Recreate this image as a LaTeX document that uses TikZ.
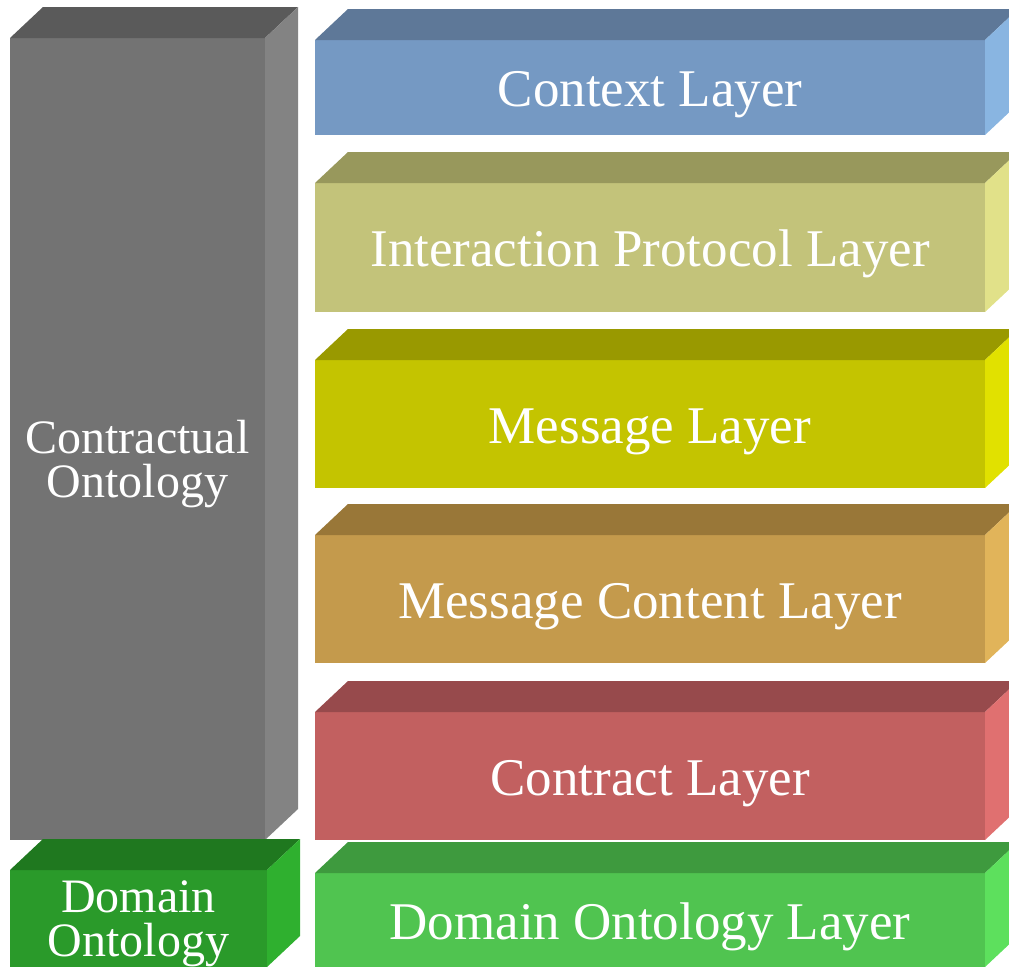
\documentclass[tikz,border=0pt]{standalone}
\usepackage{fontspec}
\setmainfont{Liberation Serif}
\usepackage{tikz}
\usetikzlibrary{shapes}

\definecolor{grayfront}{HTML}{737373}
\definecolor{graytop}{HTML}{5A5A5A}
\definecolor{grayside}{HTML}{838383}
\definecolor{domfront}{HTML}{2A9A2A}
\definecolor{domtop}{HTML}{1F781F}
\definecolor{domside}{HTML}{2FB02F}
\definecolor{ctxfront}{HTML}{7599C3}
\definecolor{ctxtop}{HTML}{5E7898}
\definecolor{ctxside}{HTML}{89B5E1}
\definecolor{ipfront}{HTML}{C3C37A}
\definecolor{iptop}{HTML}{98985C}
\definecolor{ipside}{HTML}{E1E189}
\definecolor{msgfront}{HTML}{C4C400}
\definecolor{msgtop}{HTML}{999900}
\definecolor{msgside}{HTML}{E1E100}
\definecolor{mcfront}{HTML}{C49A4C}
\definecolor{mctop}{HTML}{997738}
\definecolor{mcside}{HTML}{E1B45A}
\definecolor{ctrfront}{HTML}{C26060}
\definecolor{ctrtop}{HTML}{974A4C}
\definecolor{ctrside}{HTML}{E07070}
\definecolor{dolfront}{HTML}{50C450}
\definecolor{doltop}{HTML}{3E9A3E}
\definecolor{dolside}{HTML}{5DE05D}

\tikzstyle{block} = [rectangle, inner sep=0pt, outer sep=0pt, text=white, text centered]
\tikzstyle{layer} = [block, minimum width=670pt, text height=50pt, font=\fontsize{53}{60}\selectfont]
\tikzstyle{side} = [block, align=center, font=\fontsize{48}{44}\selectfont]

\begin{document}
\begin{tikzpicture}[x=1pt, y=-1pt]
    \clip (0,0) rectangle (1009,967);
    \useasboundingbox (0,0) rectangle (1009,967);

    % left column
    \node[block, fill=grayfront, minimum width=255pt, minimum height=802pt] (ontology) at (137.5,439) {};
    \node[block, fill=domfront, minimum width=257pt, minimum height=97pt] (domain) at (138.5,918.5) {};
    \node[side] (ontologytext) at ([yshift=-25pt]ontology.center) {Contractual\\Ontology};
    \node[side] (domaintext) at ([yshift=-5pt]domain.center) {Domain\\Ontology};

    % layers
    \node[layer, fill=ctxfront, minimum height=95pt] (context) at (650,87.5) {Context Layer};
    \node[layer, fill=ipfront, minimum height=129pt] (protocol) at (650,247.5) {Interaction Protocol Layer};
    \node[layer, fill=msgfront, minimum height=128pt] (message) at (650,424) {Message Layer};
    \node[layer, fill=mcfront, minimum height=128pt] (content) at (650,599) {Message Content Layer};
    \node[layer, fill=ctrfront, minimum height=128pt] (contract) at (650,776) {Contract Layer};
    \node[layer, fill=dolfront, minimum height=94pt] (domainlayer) at (650,920) {Domain Ontology Layer};

    % top and side faces
    \foreach \n/\t/\s in {ontology/graytop/grayside, domain/domtop/domside,
        context/ctxtop/ctxside, protocol/iptop/ipside, message/msgtop/msgside,
        content/mctop/mcside, contract/ctrtop/ctrside, domainlayer/doltop/dolside} {
        \fill[\t] (\n.north west) -- ++(33,-31) -- ([shift={(33,-31)}]\n.north east) -- (\n.north east) -- cycle;
        \fill[\s] (\n.north east) -- ++(33,-31) -- ([shift={(33,-31)}]\n.south east) -- (\n.south east) -- cycle;
    }
\end{tikzpicture}
\end{document}
